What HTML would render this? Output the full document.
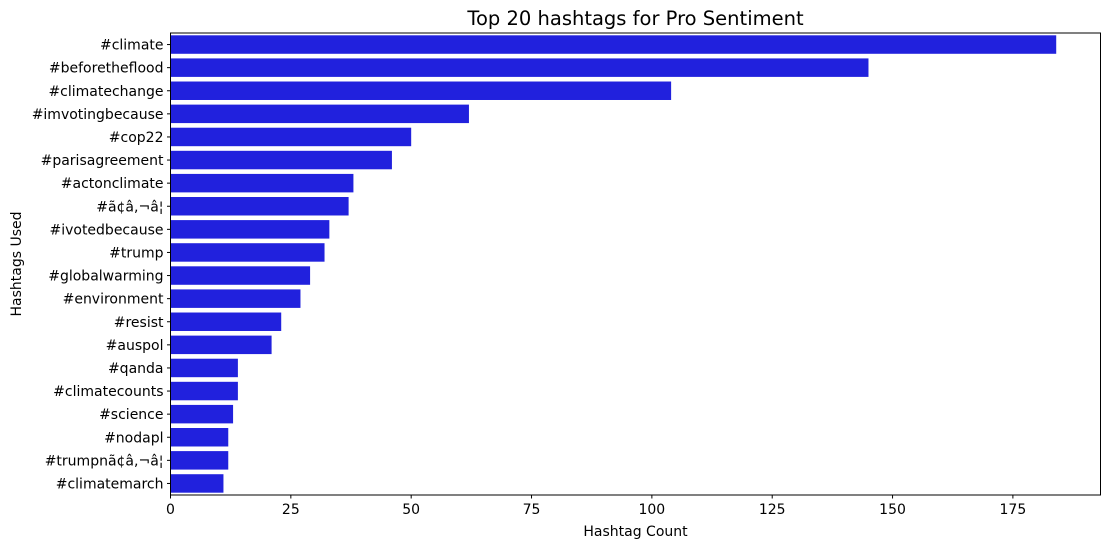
<!DOCTYPE html>
<html><head><meta charset="utf-8"><style>
body{margin:0;background:#fff;font-family:"Liberation Sans","DejaVu Sans",sans-serif}
svg text{font-family:"DejaVu Sans","Liberation Sans",sans-serif}
</style></head><body>
<svg id="chart" width="1110" height="548" xmlns="http://www.w3.org/2000/svg"></svg>
<script>
const categories=["#climate","#beforetheflood","#climatechange","#imvotingbecause","#cop22","#parisagreement","#actonclimate","#ã¢â‚¬â¦","#ivotedbecause","#trump","#globalwarming","#environment","#resist","#auspol","#qanda","#climatecounts","#science","#nodapl","#trumpnã¢â‚¬â¦","#climatemarch"];
const displayLabels=["#climate","#beforetheflood","#climatechange","#imvotingbecause","#cop22","#parisagreement","#actonclimate","#ã¢â,¬â¦","#ivotedbecause","#trump","#globalwarming","#environment","#resist","#auspol","#qanda","#climatecounts","#science","#nodapl","#trumpnã¢â,¬â¦","#climatemarch"];
const counts=[184,145,104,62,50,46,38,37,33,32,29,27,23,21,14,14,13,12,12,11];
const xTicks=[0,25,50,75,100,125,150,175];
const NS="http://www.w3.org/2000/svg";
const svg=document.getElementById('chart');
const L=170.5,R=1100.5,T=33,B=495;
const xMax=Math.max(...counts)*1.05;
const x=v=>L+(v/xMax)*(R-L);
const rowH=(B-T)/categories.length;
const yc=i=>T+rowH*(i+0.5);
function mk(tag,attrs){const e=document.createElementNS(NS,tag);for(const k in attrs)e.setAttribute(k,attrs[k]);svg.appendChild(e);return e;}
counts.forEach((v,i)=>{
 const r=mk('rect',{x:L,y:yc(i)-rowH*0.4,width:x(v)-L,height:rowH*0.8,fill:'#2121dd'});
 
 
 const t=mk('line',{x1:L-3.5,x2:L,y1:yc(i),y2:yc(i),stroke:'#000','stroke-width':1});
 
 
 const lb=mk('text',{x:L-7,y:yc(i)+5,'text-anchor':'end','font-size':14,fill:'#000'});
 lb.textContent=displayLabels[i];
 
 
});
xTicks.forEach(v=>{
 const t=mk('line',{x1:x(v),x2:x(v),y1:B,y2:B+3.5,stroke:'#000','stroke-width':1});
 
 
 const lb=mk('text',{x:x(v),y:B+19,'text-anchor':'middle','font-size':14,fill:'#000'});
 lb.textContent=v;
 
 
});
const f=mk('rect',{x:L,y:T,width:R-L,height:B-T,fill:'none',stroke:'#000','stroke-width':1});


const tt=mk('text',{x:(L+R)/2,y:25,'text-anchor':'middle','font-size':19.5,fill:'#000'});
tt.textContent='Top 20 hashtags for Pro Sentiment';


const xt=mk('text',{x:(L+R)/2,y:536,'text-anchor':'middle','font-size':14,fill:'#000'});
xt.textContent='Hashtag Count';


const yt=mk('text',{x:0,y:0,'text-anchor':'middle','font-size':14,fill:'#000',transform:`translate(21,${(T+B)/2}) rotate(-90)`});
yt.textContent='Hashtags Used';


</script>
</body></html>
